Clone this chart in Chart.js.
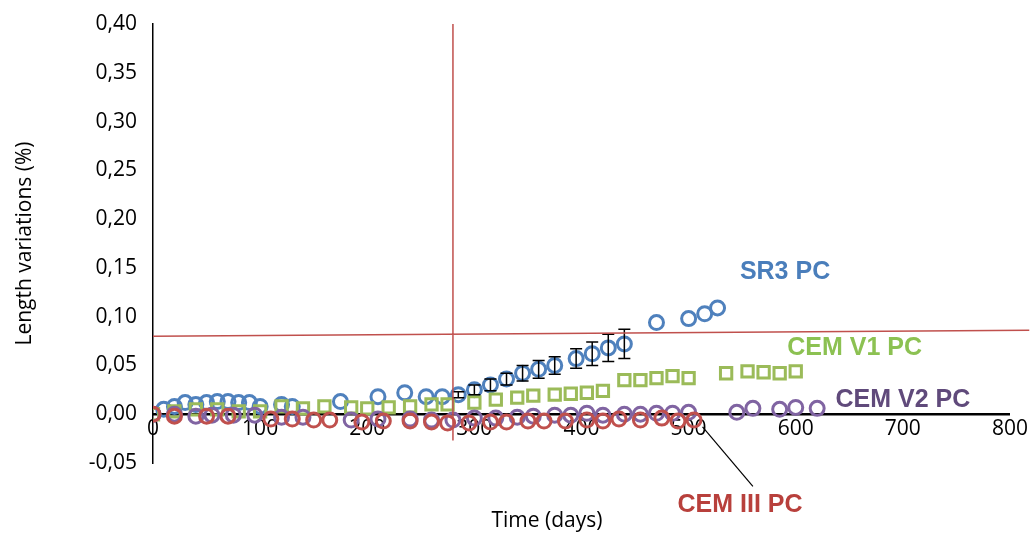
<!DOCTYPE html>
<html lang="en">
<head>
<meta charset="UTF-8">
<title>Length variations</title>
<script src="https://cdn.jsdelivr.net/npm/chart.js"></script>
<style>
    body { margin: 0; background: #fff; }
    #wrap { width: 1030px; height: 538px; }
</style>
</head>
<body>
<div id="wrap"><canvas id="chart"></canvas></div>
<script>
// SR3 PC (blue)
const sr3Days = [0,10,20,30,40,50,60,70,80,90,100,120,130,175,210,235,255,270,285,300,315,330,345,360,375,395,410,425,440,470,500,515,527];
const sr3Vals = [0,0.005,0.008,0.012,0.01,0.012,0.013,0.013,0.012,0.012,0.008,0.01,0.008,0.013,0.018,0.022,0.018,0.018,0.02,0.025,0.03,0.036,0.042,0.046,0.05,0.057,0.062,0.068,0.072,0.094,0.098,0.103,0.109];
const sr3Err  = [0,0,0,0,0,0,0,0,0,0,0,0,0,0,0,0,0,0,0.003,0.005,0.006,0.006,0.008,0.009,0.009,0.01,0.012,0.014,0.015,0,0,0,0];
// CEM V1 PC (green)
const v1Days = [0,20,40,60,80,100,120,140,160,185,200,220,240,260,275,300,320,340,355,375,390,405,420,440,455,470,485,500,535,555,570,585,600];
const v1Vals = [0,0.003,0.005,0.005,0.003,0.003,0.008,0.006,0.008,0.007,0.006,0.007,0.008,0.01,0.01,0.012,0.015,0.017,0.019,0.02,0.021,0.022,0.024,0.035,0.035,0.037,0.039,0.037,0.042,0.044,0.043,0.042,0.044];
// CEM V2 PC (purple)
const v2Days = [0,20,40,55,75,95,120,140,185,210,240,260,280,300,320,340,355,375,390,405,420,440,455,470,485,500,545,560,585,600,620];
const v2Vals = [0,0,-0.002,-0.001,-0.001,-0.001,-0.003,-0.003,-0.006,-0.005,-0.005,-0.006,-0.006,-0.004,-0.004,-0.003,-0.002,-0.001,-0.001,0.001,-0.001,0,0,0.001,0.001,0.002,0.002,0.006,0.005,0.007,0.006];
// CEM III PC (red)
const c3Days = [0,20,50,70,110,130,150,165,195,215,240,260,275,295,315,330,350,365,385,405,420,435,455,475,490,505];
const c3Vals = [0,-0.002,-0.002,-0.002,-0.005,-0.005,-0.006,-0.006,-0.008,-0.007,-0.007,-0.008,-0.009,-0.009,-0.008,-0.008,-0.007,-0.007,-0.007,-0.006,-0.007,-0.005,-0.006,-0.004,-0.007,-0.006];

const xTicks = [0,100,200,300,400,500,600,700,800];
const yTicks = [-0.05,0,0.05,0.10,0.15,0.20,0.25,0.30,0.35,0.40];

const pts = (d, v) => d.map((x, i) => ({ x: x, y: v[i] }));

const overlay = {
    id: 'overlay',
    afterDatasetsDraw(chart) {
        const { ctx, scales: { x, y } } = chart;
        ctx.save();
        // error bars for SR3
        ctx.strokeStyle = '#000';
        ctx.lineWidth = 1.5;
        sr3Days.forEach((d, i) => {
            if (!sr3Err[i]) return;
            const px = x.getPixelForValue(d);
            const t = y.getPixelForValue(sr3Vals[i] + sr3Err[i]);
            const b = y.getPixelForValue(sr3Vals[i] - sr3Err[i]);
            ctx.beginPath();
            ctx.moveTo(px, t); ctx.lineTo(px, b);
            ctx.moveTo(px - 6, t); ctx.lineTo(px + 6, t);
            ctx.moveTo(px - 6, b); ctx.lineTo(px + 6, b);
            ctx.stroke();
        });
        // red reference lines
        ctx.strokeStyle = '#c0504d';
        ctx.lineWidth = 1.5;
        ctx.beginPath();
        ctx.moveTo(x.getPixelForValue(280), y.getPixelForValue(0.40));
        ctx.lineTo(x.getPixelForValue(280), y.getPixelForValue(-0.027));
        ctx.moveTo(x.getPixelForValue(0), y.getPixelForValue(0.080));
        ctx.lineTo(x.getPixelForValue(818), y.getPixelForValue(0.086));
        ctx.stroke();
        // leader line for CEM III
        ctx.strokeStyle = '#000';
        ctx.lineWidth = 1.2;
        ctx.beginPath();
        ctx.moveTo(x.getPixelForValue(513), y.getPixelForValue(-0.013));
        ctx.lineTo(x.getPixelForValue(560), y.getPixelForValue(-0.074));
        ctx.stroke();
        // series labels
        ctx.font = 'bold 25px "Liberation Sans", Arial, sans-serif';
        ctx.textAlign = 'center';
        ctx.textBaseline = 'middle';
        const lab = (t, c, d, v) => { ctx.fillStyle = c; ctx.fillText(t, x.getPixelForValue(d), y.getPixelForValue(v)); };
        lab('SR3 PC', '#4a7ebb', 590, 0.146);
        lab('CEM V1 PC', '#8cc152', 655, 0.068);
        lab('CEM V2 PC', '#604a7b', 700, 0.014);
        lab('CEM III PC', '#b8403c', 548, -0.093);
        // axis title
        ctx.fillStyle = '#000';
        ctx.font = '21px "Open Sans", sans-serif';
        ctx.fillText('Time (days)', 547, 521);
        ctx.restore();
    }
};

const tickFont = { family: '"Open Sans", sans-serif', size: 21 };

new Chart(document.getElementById('chart'), {
    type: 'scatter',
    data: {
        datasets: [
            { label: 'CEM III PC', data: pts(c3Days, c3Vals), borderColor: '#c0504d', backgroundColor: 'transparent', pointStyle: 'circle', pointRadius: 7, borderWidth: 3 },
            { label: 'CEM V2 PC', data: pts(v2Days, v2Vals), borderColor: '#8064a2', backgroundColor: 'transparent', pointStyle: 'circle', pointRadius: 7, borderWidth: 3 },
            { label: 'CEM V1 PC', data: pts(v1Days, v1Vals), borderColor: '#9bbb59', backgroundColor: 'transparent', pointStyle: 'rect', pointRadius: 8, borderWidth: 3 },
            { label: 'SR3 PC', data: pts(sr3Days, sr3Vals), borderColor: '#4f81bd', backgroundColor: 'transparent', pointStyle: 'circle', pointRadius: 7, borderWidth: 3 }
        ]
    },
    options: {
        responsive: true,
        maintainAspectRatio: false,
        animation: false,
        layout: { padding: { left: 8, right: 20, top: 24, bottom: 75 } },
        plugins: { legend: { display: false }, tooltip: { enabled: false } },
        scales: {
            x: {
                type: 'linear', min: 0, max: 800,
                position: { y: 0 },
                afterBuildTicks: s => { s.ticks = xTicks.map(v => ({ value: v })); },
                grid: { display: false, drawTicks: false },
                border: { color: '#000', width: 2.5 },
                ticks: { font: tickFont, color: '#000', padding: 2 }
            },
            y: {
                min: -0.05, max: 0.40,
                afterBuildTicks: s => { s.ticks = yTicks.map(v => ({ value: v })); },
                afterFit: s => { s.width = 145; },
                grid: { display: false },
                border: { color: '#000', width: 1.5 },
                ticks: { font: tickFont, color: '#000', padding: 8, callback: v => v.toFixed(2).replace('.', ',') },
                title: { display: true, text: 'Length variations (%)', font: { family: '"Open Sans", sans-serif', size: 21 }, color: '#000' }
            }
        }
    },
    plugins: [overlay]
});
</script>
</body>
</html>
